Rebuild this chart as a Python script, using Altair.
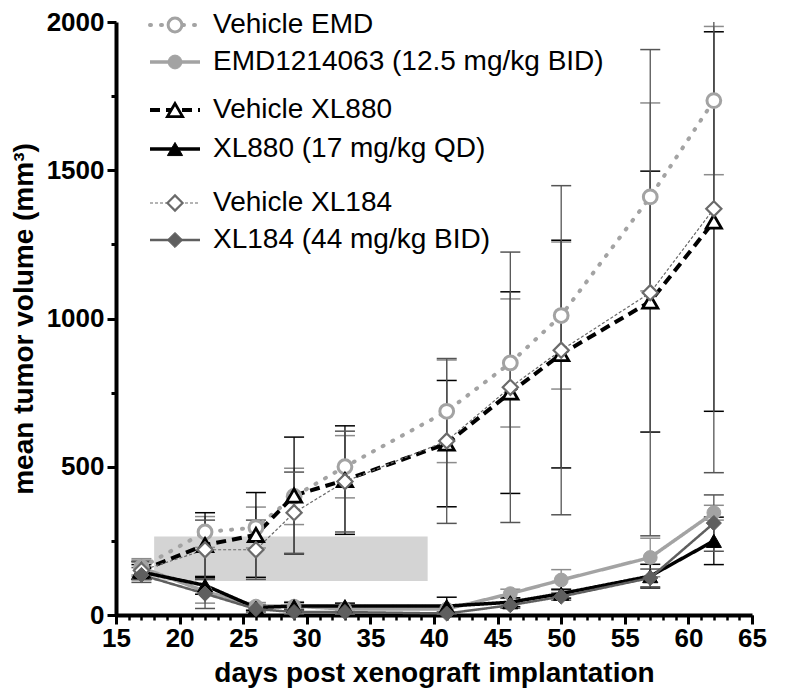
import altair as alt
import pandas as pd

# ---------------- data ----------------
days = [17, 22, 26, 29, 33, 41, 46, 50, 57, 62]

series_names = [
    "Vehicle EMD",
    "EMD1214063 (12.5 mg/kg BID)",
    "Vehicle XL880",
    "XL880 (17 mg/kg QD)",
    "Vehicle XL184",
    "XL184 (44 mg/kg BID)",
]

veh_emd = [160, 280, 295, 400, 500, 687, 850, 1010, 1410, 1735]
veh_emd_err = [30, 52, 69, 95, 105, 173, 216, 248, 317, 250]

emd = [160, 80, 30, 30, 20, 20, 72, 118, 194, 345]
emd_err = [25, 40, 12, 15, 10, 10, 15, 35, 65, 25]

veh_xl880 = [150, 236, 270, 403, 455, 578, 750, 880, 1057, 1327]
veh_xl880_err = [30, 109, 143, 197, 183, 213, 340, 384, 440, 640]

xl880 = [145, 100, 25, 30, 30, 30, 43, 72, 131, 250]
xl880_err = [25, 30, 10, 12, 10, 30, 15, 15, 40, 80]

veh_xl184 = [150, 220, 220, 345, 450, 587, 768, 893, 1087, 1370]
veh_xl184_err = [30, 100, 100, 137, 170, 278, 456, 555, 820, 890]

xl184 = [135, 72, 20, 10, 10, 5, 33, 62, 125, 310]
xl184_err = [25, 50, 10, 10, 8, 5, 10, 12, 30, 95]

# shaded treatment window
band_days = [18, 39.5]
band_volume = [115, 265]

x_ticks = list(range(15, 66, 5))
x_minor = list(range(15, 66))
y_ticks = [0, 500, 1000, 1500, 2000]
y_minor = [250, 750, 1250, 1750]

# ---------------- styling ----------------
FONT = "Liberation Sans"
W, H = 636, 593
xs = alt.Scale(domain=[15, 65], nice=False, zero=False)
ys = alt.Scale(domain=[0, 2000], nice=False)

means = [veh_emd, emd, veh_xl880, xl880, veh_xl184, xl184]
errs = [veh_emd_err, emd_err, veh_xl880_err, xl880_err, veh_xl184_err, xl184_err]

styles = [
    dict(color="#a3a3a3", width=4, dash=[1, 10], cap="round", shape="circle", open=True,
         size=190, sw=3, ecolor="#8c8c8c"),
    dict(color="#a3a3a3", width=3.5, dash=[1, 0], cap="butt", shape="circle", open=False,
         size=190, sw=1, ecolor="#8c8c8c"),
    dict(color="#000000", width=4, dash=[10, 6], cap="butt", shape="triangle-up", open=True,
         size=230, sw=2.8, ecolor="#000000"),
    dict(color="#000000", width=3.5, dash=[1, 0], cap="butt", shape="triangle-up", open=False,
         size=230, sw=1, ecolor="#000000"),
    dict(color="#6a6a6a", width=1.2, dash=[3, 2], cap="butt", shape="diamond", open=True,
         size=230, sw=2.2, ecolor="#555555"),
    dict(color="#5f5f5f", width=2.5, dash=[1, 0], cap="butt", shape="diamond", open=False,
         size=230, sw=1, ecolor="#555555"),
]

legend_rows = [3, 40, 88, 127, 181, 218]

major_x = alt.Axis(values=x_ticks, format="d", orient="bottom", labelFont=FONT,
                   labelFontWeight="bold", labelFontSize=26,
                   labelColor="black", tickColor="black", tickWidth=3, tickSize=9,
                   domainColor="black", domainWidth=4, grid=False, labelPadding=1,
                   labelFlush=False, labelOverlap=False,
                   title="days post xenograft implantation", titleFont=FONT,
                   titleFontWeight="bold", titleFontSize=28, titleColor="black",
                   titlePadding=8)
minor_x = alt.Axis(values=x_minor, orient="bottom", labels=False, domain=False, grid=False,
                   tickColor="black", tickWidth=2.5, tickSize=5, title=None)
major_y = alt.Axis(values=y_ticks, format="d", orient="left", labelFont=FONT,
                   labelFontWeight="bold", labelFontSize=26,
                   labelColor="black", tickColor="black", tickWidth=3, tickSize=9,
                   domainColor="black", domainWidth=4, grid=False, labelPadding=3,
                   labelFlush=False, labelOverlap=False,
                   title="mean tumor volume (mm³)", titleFont=FONT,
                   titleFontWeight="bold", titleFontSize=28, titleColor="black",
                   titlePadding=8)
minor_y = alt.Axis(values=y_minor, orient="left", labels=False, domain=False, grid=False,
                   tickColor="black", tickWidth=3, tickSize=5, title=None)

# ---------------- layers ----------------
band_df = pd.DataFrame({"x1": [band_days[0]], "x2": [band_days[1]],
                        "y1": [band_volume[0]], "y2": [band_volume[1]]})
band = alt.Chart(band_df).mark_rect(color="#d4d4d4").encode(
    x=alt.X("x1:Q", scale=xs, axis=major_x),
    x2="x2:Q",
    y=alt.Y("y1:Q", scale=ys, axis=major_y),
    y2="y2:Q",
)

minor = alt.Chart(pd.DataFrame({"x": [15], "y": [0]})).mark_point(opacity=0).encode(
    x=alt.X("x:Q", scale=xs, axis=minor_x),
    y=alt.Y("y:Q", scale=ys, axis=minor_y),
)

err_layers, line_layers, point_layers, legend_layers = [], [], [], []
for name, m, e, st, ry in zip(series_names, means, errs, styles, legend_rows):
    df = pd.DataFrame({"day": days, "mean": m,
                       "lo": [a - b for a, b in zip(m, e)],
                       "hi": [a + b for a, b in zip(m, e)]})
    base = alt.Chart(df)
    X = alt.X("day:Q", scale=xs, axis=None)
    err_layers.append(base.mark_rule(color=st["ecolor"], strokeWidth=1.3, clip=True).encode(
        x=X, y=alt.Y("lo:Q", scale=ys, axis=None), y2="hi:Q"))
    for col in ["lo", "hi"]:
        err_layers.append(base.mark_tick(orient="horizontal", size=20, thickness=1.5,
                                         color=st["ecolor"], clip=True, opacity=1).encode(
            x=X, y=alt.Y(f"{col}:Q", scale=ys, axis=None)))
    line_layers.append(base.mark_line(color=st["color"], strokeWidth=st["width"],
                                      strokeDash=st["dash"], strokeCap=st["cap"], clip=True).encode(
        x=X, y=alt.Y("mean:Q", scale=ys, axis=None)))
    fill = "white" if st["open"] else st["color"]
    pt_kw = dict(shape=st["shape"], size=st["size"], fill=fill, stroke=st["color"],
                 strokeWidth=st["sw"], opacity=1, fillOpacity=1, strokeOpacity=1)
    point_layers.append(base.mark_point(**pt_kw).encode(
        x=X, y=alt.Y("mean:Q", scale=ys, axis=None)))

    ldf = pd.DataFrame({"label": [name]})
    lb = alt.Chart(ldf)
    legend_layers.append(lb.mark_rule(color=st["color"], strokeWidth=st["width"],
                                      strokeDash=st["dash"], strokeCap=st["cap"]).encode(
        x=alt.value(34), x2=alt.value(84), y=alt.value(ry)))
    legend_layers.append(lb.mark_point(**pt_kw).encode(x=alt.value(59), y=alt.value(ry)))
    legend_layers.append(lb.mark_text(align="left", baseline="middle", font=FONT, fontSize=28,
                                      color="black").encode(
        x=alt.value(97), y=alt.value(ry), text="label:N"))

chart = alt.layer(band, minor, *err_layers, *line_layers, *point_layers, *legend_layers).resolve_axis(
    x="independent", y="independent"
).properties(
    width=W, height=H,
    autosize=alt.AutoSizeParams(type="none"),
    padding={"left": 108, "top": 14, "right": 20, "bottom": 74},
).configure_view(stroke=None)

chart.save("out.html", embed_options={"renderer": "svg", "actions": False})
